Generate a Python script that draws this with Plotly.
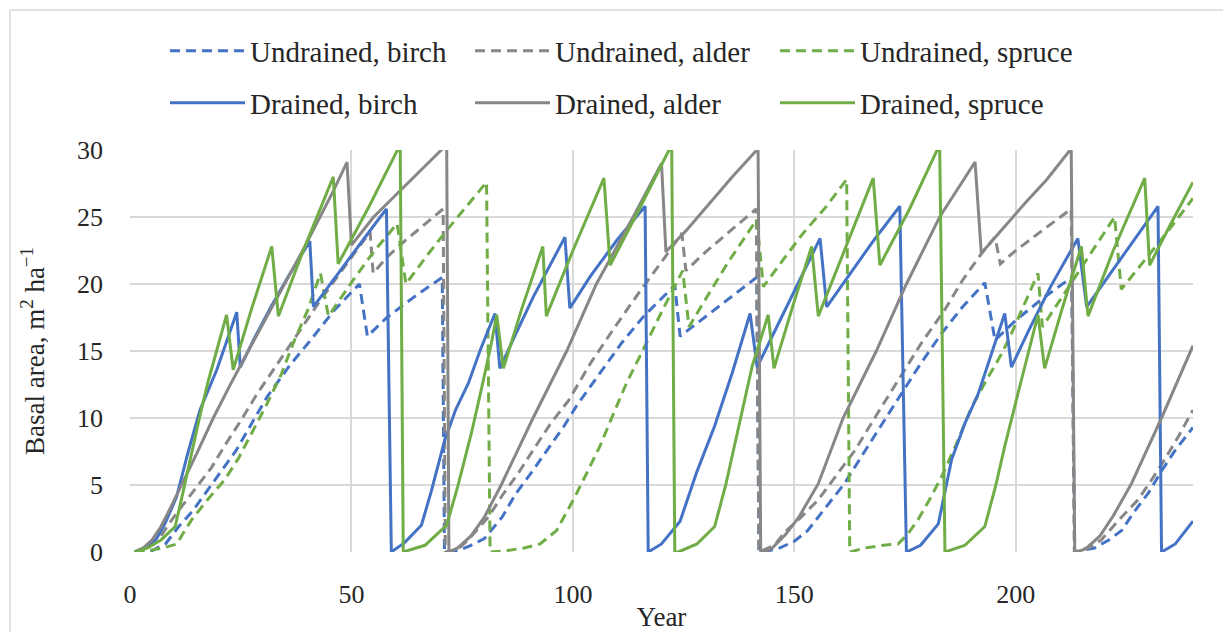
import plotly.graph_objects as go

# ---------------- data ----------------
years_ub = [1, 5, 8, 11, 14, 17, 20, 24, 28, 31, 36, 41, 46, 51.8, 53.6, 58, 64, 70.5, 71,
            74, 77, 80, 84, 87, 91, 95, 98, 101, 106, 111, 116, 123, 124.2, 130, 136, 141.5, 142,
            146, 150, 153, 157, 161.3, 167, 172.7, 178, 183.2, 188, 193, 195.3, 200, 206, 212.6, 213.3,
            217.8, 221, 223.9, 226.5, 229.9, 233, 236, 240]
ba_ub = [0, 0.1, 0.6, 1.9, 3.0, 4.4, 5.8, 7.6, 9.9, 11.6, 13.9, 15.9, 18.0, 20.0, 16.1, 17.5, 19.0, 20.5, 0,
         0.1, 0.5, 1.0, 2.6, 4.3, 6.1, 8.0, 9.4, 11.0, 13.3, 15.6, 17.6, 19.9, 16.1, 17.6, 19.1, 20.5, 0,
         0.2, 0.8, 1.6, 3.3, 5.1, 8.1, 11.1, 13.8, 16.3, 18.3, 20.1, 15.8, 17.3, 18.9, 20.5, 0,
         0.3, 0.9, 1.6, 2.9, 4.4, 6.1, 7.6, 9.3]

years_ua = [1, 4, 7, 9, 11.7, 15, 18.4, 21.5, 25.2, 28.5, 32, 35, 38, 43, 47.8, 54.2, 54.9, 58, 62, 66, 70.7, 71.2,
            74, 76.3, 78.5, 80.9, 84, 87.7, 91, 95, 99, 104, 109.5, 115, 120.8, 124.6, 125.5, 130, 136, 141.4, 142,
            145.5, 147.9, 151.5, 155.4, 159.5, 163.7, 168.5, 173.4, 178.5, 184, 188, 192.3, 195.3, 196.5, 200, 206, 212.5, 213.2,
            216.5, 219.3, 223, 227.6, 230.5, 233.6, 236.5, 240]
ba_ua = [0, 0.3, 1.2, 2.2, 3.4, 4.8, 6.3, 8.0, 9.9, 11.7, 13.4, 14.9, 16.3, 18.8, 21.0, 23.9, 20.8, 22.0, 23.2, 24.3, 25.6, 0,
         0.2, 0.9, 1.7, 2.6, 4.2, 5.9, 7.6, 9.6, 11.3, 14.1, 16.8, 19.4, 22.0, 23.8, 21.0, 22.4, 24.1, 25.6, 0,
         0.5, 1.5, 2.6, 3.9, 5.7, 7.6, 10.2, 12.8, 15.5, 18.1, 20.3, 22.3, 23.5, 21.5, 22.5, 24.0, 25.6, 0,
         0.3, 0.9, 2.3, 3.9, 5.3, 6.9, 8.5, 10.6]

years_us = [1, 4, 7.5, 10.6, 12, 13.9, 17.5, 21.4, 24.5, 27.5, 31, 34.2, 37, 40.2, 43, 44.8, 50.4, 55, 60.3, 62.3, 67, 71.5, 76, 80.5, 81.3,
            85, 89, 92.6, 96.3, 100.1, 103, 106.1, 109, 112.1, 116.6, 120, 124.8, 126.2, 130, 135, 141.5, 143, 147.9, 152, 157, 161.8, 162.5,
            165.9, 170, 173.4, 175.5, 177.9, 180.5, 183.2, 186.5, 190, 193.5, 196.8, 199, 202, 205, 206, 210, 216, 222.3, 223.8, 228, 234, 240]
ba_us = [0, 0.1, 0.3, 0.6, 1.4, 2.4, 3.9, 5.4, 7.0, 8.9, 11.1, 13.3, 15.7, 18.1, 20.8, 17.6, 20.3, 22.4, 24.5, 20.0, 22.1, 24.0, 25.8, 27.6, 0,
         0.1, 0.3, 0.6, 1.6, 3.9, 5.8, 7.9, 10.2, 12.6, 15.6, 17.9, 21.0, 16.8, 18.9, 21.6, 24.8, 19.8, 22.0, 23.8, 25.7, 27.8, 0,
         0.3, 0.5, 0.6, 1.3, 2.4, 3.9, 5.6, 8.0, 10.8, 12.9, 14.8, 16.3, 18.5, 20.8, 16.8, 18.8, 21.8, 25.0, 19.6, 21.3, 23.8, 26.4]

years_db = [1, 4, 6, 8, 10.5, 13, 15.8, 19.6, 24.1, 24.9, 28, 32, 36, 40.6, 41.4, 46, 50.4, 54, 57.9, 59,
            62, 65.8, 68, 71.1, 73.5, 76.4, 79, 82.4, 83.5, 87, 91, 95, 98.2, 99.3, 104, 110, 116.3, 117,
            120, 124.2, 128, 132, 136, 140, 141.6, 145, 150, 155.8, 157.3, 163, 168, 173.8, 175.3,
            178.5, 182.5, 185.5, 188.5, 191.5, 194.5, 197.5, 199, 203, 208, 214, 216, 221, 226.5, 232.1, 232.9, 236, 240]
ba_db = [0, 0.4, 1.0, 2.2, 4.1, 7.3, 10.6, 13.6, 17.9, 13.8, 15.9, 18.4, 20.7, 23.2, 18.3, 20.3, 22.3, 23.9, 25.6, 0,
         0.7, 2.0, 4.5, 8.4, 10.6, 12.6, 15.0, 17.8, 13.7, 16.2, 19.0, 21.5, 23.5, 18.2, 20.6, 23.3, 25.8, 0,
         0.6, 2.3, 6.0, 9.4, 13.4, 17.8, 13.8, 16.1, 19.5, 23.4, 18.3, 21.0, 23.3, 25.8, 0,
         0.5, 2.1, 6.9, 9.6, 11.8, 14.8, 17.8, 13.8, 16.6, 19.9, 23.4, 18.3, 20.6, 23.2, 25.8, 0, 0.6, 2.3]

years_da = [1, 3, 5, 7, 9, 11.7, 15, 18.8, 22.5, 26.7, 31, 35, 39, 42.9, 46, 49, 50, 55, 61, 66, 71.5, 72,
            74, 77, 80, 83.8, 91, 98.6, 105.3, 113.6, 120, 121, 125.6, 131, 136, 141.8, 142.4,
            143.3, 145, 148, 151, 155.4, 161, 168.5, 175.3, 182.8, 190.8, 192.2, 196.4, 202, 207, 212.5, 213.3,
            214, 216, 219, 222, 226.1, 232.9, 240]
ba_da = [0, 0.3, 0.9, 1.9, 3.2, 5.0, 7.3, 10.0, 12.4, 15.0, 17.6, 20.0, 22.5, 25.0, 27.0, 29.1, 22.9, 25.0, 27.0, 28.6, 30.4, 0,
         0.3, 1.2, 2.6, 5.0, 10.0, 15.0, 20.0, 25.0, 29.0, 22.4, 24.0, 26.1, 28.0, 30.1, 0,
         0, 0.3, 1.3, 2.6, 5.1, 10.0, 15.0, 20.0, 25.0, 29.1, 22.3, 23.9, 26.0, 27.8, 30.1, 0,
         0, 0.3, 1.2, 2.7, 5.1, 10.0, 15.4]

years_ds = [1, 4, 7, 10.2, 12, 13.9, 15.8, 17.7, 19.8, 21.8, 23.3, 27.5, 32, 33.5, 39, 45.9, 47, 54, 61, 61.7,
            66.6, 71.5, 74, 77.1, 79.5, 81.6, 82.8, 84.3, 88.5, 93.2, 94, 100, 107, 108.4, 115, 122.3, 123,
            123.8, 128, 132, 134.5, 137.3, 140.5, 144.1, 145.4, 149.5, 153.9, 155.4, 161, 167.8, 169.3, 176, 182.8, 184,
            188.5, 193, 195.5, 197.5, 201, 205, 206.5, 210.5, 214.8, 216.3, 222, 229.1, 230.2, 235, 240]
ba_ds = [0, 0.3, 0.9, 1.9, 4.5, 7.4, 10.2, 12.8, 15.3, 17.7, 13.6, 18.2, 22.8, 17.6, 22.4, 28.0, 21.5, 25.8, 30.4, 0,
         0.5, 2.0, 4.9, 8.9, 12.4, 15.6, 17.7, 13.7, 18.2, 22.8, 17.6, 22.5, 27.9, 21.4, 25.6, 30.4, 0,
         0, 0.6, 1.9, 5.0, 9.1, 13.9, 17.7, 13.7, 18.2, 22.8, 17.6, 22.3, 27.9, 21.4, 25.6, 30.4, 0,
         0.5, 1.9, 5.0, 7.9, 12.5, 17.7, 13.7, 18.2, 22.8, 17.6, 22.5, 27.9, 21.4, 24.5, 27.6]

x_ticks = [0, 50, 100, 150, 200]
y_ticks = [0, 5, 10, 15, 20, 25, 30]

# ---------------- styling ----------------
BLUE = "#4472C4"
GRAY = "#878787"
GREEN = "#70AD47"
DASH = "10px,6px"
FONT = "Liberation Serif"
TXT = "#262626"

series = [
    ("Undrained, birch", years_ub, ba_ub, BLUE, DASH, "legend"),
    ("Undrained, alder", years_ua, ba_ua, GRAY, DASH, "legend"),
    ("Undrained, spruce", years_us, ba_us, GREEN, DASH, "legend"),
    ("Drained, birch", years_db, ba_db, BLUE, "solid", "legend2"),
    ("Drained, alder", years_da, ba_da, GRAY, "solid", "legend2"),
    ("Drained, spruce", years_ds, ba_ds, GREEN, "solid", "legend2"),
]

fig = go.Figure()
for name, xs, ys, col, dash, leg in series:
    fig.add_trace(go.Scatter(x=xs, y=ys, mode="lines", name=name,
                             line=dict(color=col, width=3, dash=dash),
                             legend=leg))

W, H = 1223, 632
L, R, T, B = 130, 30, 150, 80
pw, ph = W - L - R, H - T - B

def px_x(p):
    return (p - L) / pw

def px_y(p):
    return (H - B - p) / ph

legend_common = dict(orientation="h", xanchor="left", yanchor="middle",
                     font=dict(family=FONT, size=29, color=TXT),
                     bgcolor="rgba(0,0,0,0)", itemwidth=75,
                     entrywidth=215, entrywidthmode="pixels",
                     traceorder="normal")

fig.update_layout(
    width=W, height=H,
    margin=dict(l=L, r=R, t=T, b=B, autoexpand=False),
    paper_bgcolor="white", plot_bgcolor="white",
    font=dict(family=FONT, color=TXT),
    legend=dict(x=px_x(165), y=px_y(51), **legend_common),
    legend2=dict(x=px_x(165), y=px_y(103), **legend_common),
    xaxis=dict(range=[0, 240], tickvals=x_ticks, showgrid=True, automargin=False,
               gridcolor="#d9d9d9", gridwidth=1.5, zeroline=False,
               showline=False, ticks="", ticklabelstandoff=24,
               tickfont=dict(family=FONT, size=26, color=TXT),
               title=dict(text="Year", font=dict(family=FONT, size=27, color=TXT),
                          standoff=4)),
    yaxis=dict(range=[0, 30], tickvals=y_ticks, showgrid=True, automargin=False,
               gridcolor="#d9d9d9", gridwidth=1.5, zeroline=False,
               showline=False, ticks="", ticklabelstandoff=26,
               tickfont=dict(family=FONT, size=26, color=TXT),
               title=dict(text="Basal area, m<sup>2</sup> ha<sup>−1</sup>",
                          font=dict(family=FONT, size=27, color=TXT),
                          standoff=24)),
    shapes=[dict(type="rect", xref="paper", yref="paper",
                 x0=px_x(10), x1=px_x(1260), y0=px_y(680), y1=px_y(10),
                 line=dict(color="#d9d9d9", width=1.5), layer="below")],
)

fig.write_html("out.html")
